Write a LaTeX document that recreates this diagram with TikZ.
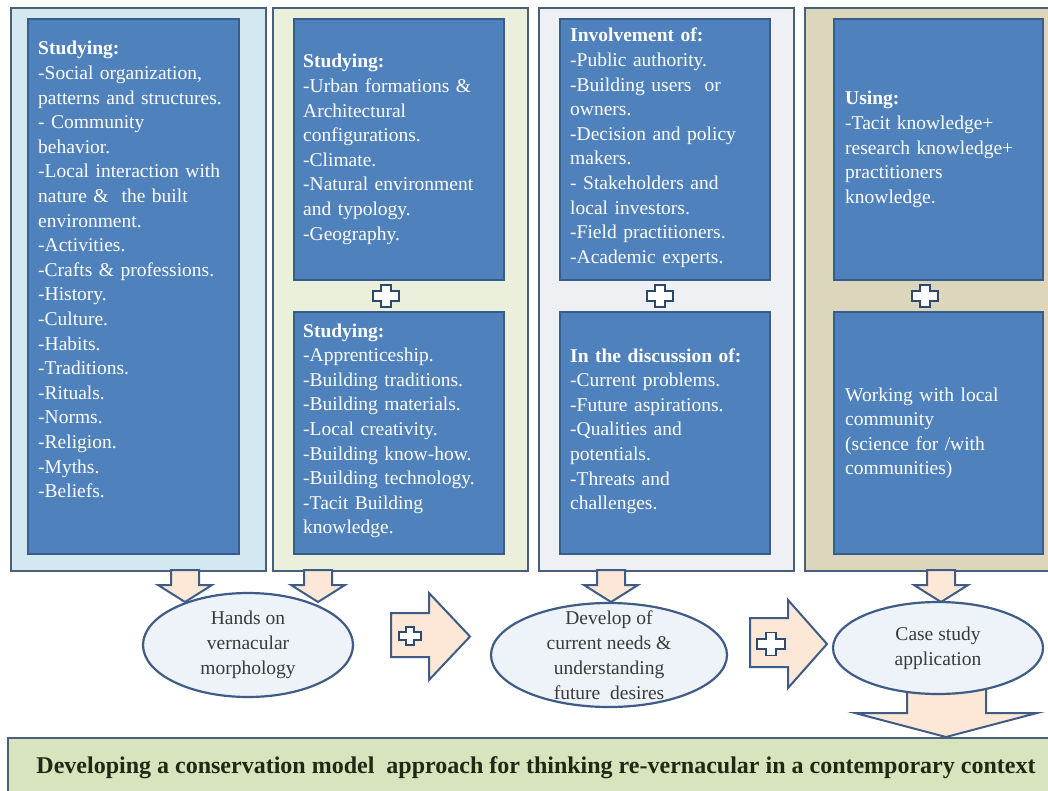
\documentclass[tikz,border=0pt]{standalone}
\usepackage{fontspec}
\setmainfont{Liberation Serif}
\usetikzlibrary{shapes.geometric}
\definecolor{pborder}{HTML}{4A5F7A}
\definecolor{bluefill}{HTML}{4F81BD}
\definecolor{blueline}{HTML}{385D8A}
\definecolor{pone}{HTML}{D4E8F2}
\definecolor{ptwo}{HTML}{EBF0DC}
\definecolor{pthree}{HTML}{EFF0F4}
\definecolor{pfour}{HTML}{DCD6BD}
\definecolor{peach}{HTML}{FDE7D6}
\definecolor{arrline}{HTML}{3E5C86}
\definecolor{ellfill}{HTML}{EEF3F9}
\definecolor{banfill}{HTML}{D7E4BD}
\definecolor{bantextc}{HTML}{1E2A14}
\definecolor{elltextc}{HTML}{3A3A3A}
\tikzset{
  panel/.style={draw=pborder, line width=2.2pt, anchor=north west, inner sep=0pt},
  bluebox/.style={draw=blueline, fill=bluefill, line width=2pt, anchor=north west, inner sep=0pt},
  btext/.style={anchor=base west, inner sep=0pt, text width=225pt, align=left, text=white,
     font=\fontsize{19.5}{24.6}\selectfont},
  ell/.style={ellipse, draw=arrline, fill=ellfill, line width=2.2pt, inner sep=0pt},
  etext/.style={align=center, inner sep=0pt, text=elltextc, font=\fontsize{19.5}{25}\selectfont},
  barrow/.style={draw=arrline, fill=peach, line width=2pt, line join=miter},
  pluss/.style={draw=blueline!80!black, fill=white, line width=1.8pt},
  banner/.style={draw=pborder, fill=banfill, line width=2.2pt, anchor=north west, inner sep=0pt},
  bantext/.style={inner sep=0pt, text=bantextc, font=\fontsize{24}{28}\selectfont\bfseries},
  downarr/.pic={\draw[barrow] (-14,0) -- (14,0) -- (14,15) -- (27,15) -- (0,32) -- (-27,15) -- (-14,15) -- cycle;},
  plusicon/.pic={\draw[pluss] (-5,-11) -- (5,-11) -- (5,-5) -- (13,-5) -- (13,5) -- (5,5) -- (5,11) -- (-5,11) -- (-5,5) -- (-13,5) -- (-13,-5) -- (-5,-5) -- cycle;}
}
\begin{document}
\begin{tikzpicture}[x=1pt,y=-1pt]
\useasboundingbox (0,0) rectangle (1048,791);
\fill[white] (0,0) rectangle (1048,791);

% panels
\node[panel, fill=pone, minimum width=255pt, minimum height=563pt] (P1) at (10,7) {};
\node[panel, fill=ptwo, minimum width=255pt, minimum height=563pt] (P2) at (272,7) {};
\node[panel, fill=pthree, minimum width=255pt, minimum height=563pt] (P3) at (538,7) {};
\node[panel, fill=pfour, minimum width=260pt, minimum height=563pt] (P4) at (804,7) {};

% blue boxes
\node[bluebox, minimum width=211pt, minimum height=535pt] (B1) at (27,18) {};
\node[bluebox, minimum width=210pt, minimum height=261pt] (B2a) at (293,18) {};
\node[bluebox, minimum width=210pt, minimum height=242pt] (B2b) at (293,311) {};
\node[bluebox, minimum width=210pt, minimum height=261pt] (B3a) at (559,18) {};
\node[bluebox, minimum width=210pt, minimum height=242pt] (B3b) at (559,311) {};
\node[bluebox, minimum width=209pt, minimum height=261pt] (B4a) at (833,18) {};
\node[bluebox, minimum width=209pt, minimum height=242pt] (B4b) at (833,311) {};

% plus signs between boxes
\pic at (386,296) {plusicon};
\pic at (660,296) {plusicon};
\pic at (925,296) {plusicon};

% box texts
\node[btext] (T1) at (38,55) {\textbf{Studying:}\\-Social organization,\\patterns and structures.\\- Community\\behavior.\\-Local interaction with\\nature \&\ \ the built\\environment.\\-Activities.\\-Crafts \& professions.\\-History.\\-Culture.\\-Habits.\\-Traditions.\\-Rituals.\\-Norms.\\-Religion.\\-Myths.\\-Beliefs.};
\node[btext] (T2a) at (303,68) {\textbf{Studying:}\\-Urban formations \&\\Architectural\\configurations.\\-Climate.\\-Natural environment\\and typology.\\-Geography.};
\node[btext] (T2b) at (303,337) {\textbf{Studying:}\\-Apprenticeship.\\-Building traditions.\\-Building materials.\\-Local creativity.\\-Building know-how.\\-Building technology.\\-Tacit Building\\knowledge.};
\node[btext] (T3a) at (570,42) {\textbf{Involvement of:}\\-Public authority.\\-Building users\ \ or\\owners.\\-Decision and policy\\makers.\\- Stakeholders and\\local investors.\\-Field practitioners.\\-Academic experts.};
\node[btext] (T3b) at (570,362) {\textbf{In the discussion of:}\\-Current problems.\\-Future aspirations.\\-Qualities and\\potentials.\\-Threats and\\challenges.};
\node[btext] (T4a) at (845,105) {\textbf{Using:}\\-Tacit knowledge+\\research knowledge+\\practitioners\\knowledge.};
\node[btext] (T4b) at (845,401) {Working with local\\community\\(science for /with\\communities)};

% banner
\node[banner, minimum width=1060pt, minimum height=70pt] (BAN) at (7,737) {};
\node[bantext] (BT) at (536,768) {Developing a conservation model\ \ approach for thinking re-vernacular in a contemporary context};

% down arrows from panels
\pic at (185,570) {downarr};
\pic at (318,570) {downarr};
\pic at (611,570) {downarr};
\pic at (941,570) {downarr};

% big arrow to banner
\draw[barrow] (907,680) -- (986,680) -- (986,713) -- (1037,713) -- (946,737) -- (855,713) -- (907,713) -- cycle;

% right arrows with plus
\draw[barrow] (391,613) -- (429,613) -- (429,593) -- (470,636.5) -- (429,680) -- (429,657) -- (391,657) -- cycle;
\pic[scale=0.85] at (410,636) {plusicon};
\draw[barrow] (750,618) -- (788,618) -- (788,600) -- (827,644) -- (788,688) -- (788,667) -- (750,667) -- cycle;
\pic[scale=1.05] at (771,644) {plusicon};

% ellipses
\node[ell, minimum width=210pt, minimum height=104pt] (E1) at (248,645) {};
\node[etext] at (E1.center) {Hands on\\vernacular\\morphology};
\node[ell, minimum width=236pt, minimum height=104pt] (E2) at (609,655) {};
\node[etext] at (E2.center) {Develop of\\current needs \&\\understanding\\future\ \ desires};
\node[ell, minimum width=210pt, minimum height=92pt] (E3) at (938,648) {};
\node[etext] at (E3.center) {Case study\\application};
\end{tikzpicture}
\end{document}
